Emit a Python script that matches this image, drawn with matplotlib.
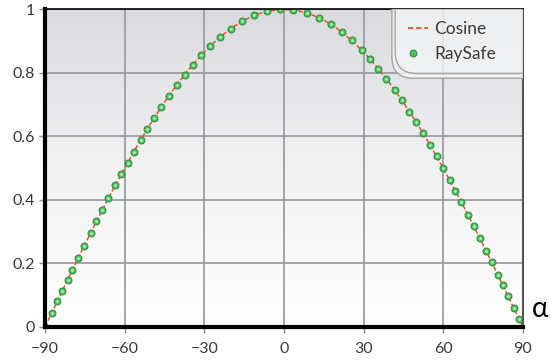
import numpy as np
import matplotlib
matplotlib.use('Agg')
import matplotlib.pyplot as plt
from matplotlib.patches import FancyBboxPatch
from matplotlib.lines import Line2D
from matplotlib.legend_handler import HandlerTuple

plt.rcParams['font.family'] = ['Lato', 'DejaVu Sans']

# reference cosine curve, read every 5 degrees
cos_angle = [-90, -85, -80, -75, -70, -65, -60, -55, -50, -45, -40, -35, -30, -25, -20, -15, -10, -5,
             0, 5, 10, 15, 20, 25, 30, 35, 40, 45, 50, 55, 60, 65, 70, 75, 80, 85, 90]
cos_value = [0.000, 0.087, 0.174, 0.259, 0.342, 0.423, 0.500, 0.574, 0.643, 0.707, 0.766, 0.819, 0.866,
             0.906, 0.940, 0.966, 0.985, 0.996, 1.000, 0.996, 0.985, 0.966, 0.940, 0.906, 0.866, 0.819,
             0.766, 0.707, 0.643, 0.574, 0.500, 0.423, 0.342, 0.259, 0.174, 0.087, 0.000]

# RaySafe measurements
ray_angle = [-90, -87.4, -85.3, -83.5, -81.5, -79.7, -77.4, -75.2, -72.8, -70.6, -68.4, -66.1, -63.5,
             -61.3, -58.9, -56.5, -54.0, -51.5, -48.8, -46.2, -43.3, -40.4, -37.4, -34.3, -31.1, -27.7,
             -24.0, -20.1, -15.8, -11.3, -6.4, -1.4, 3.6, 8.6, 13.4, 17.7, 21.9, 25.5, 29.3, 32.4, 35.6,
             38.6, 41.7, 44.5, 47.3, 49.9, 52.4, 55.1, 57.5, 60.0, 62.4, 64.6, 66.9, 69.3, 71.5, 73.8,
             76.2, 78.3, 80.6, 82.4, 84.5, 86.5, 88.6]
ray_value = [0.000, 0.045, 0.082, 0.113, 0.148, 0.179, 0.218, 0.255, 0.296, 0.332, 0.368, 0.405, 0.446,
             0.480, 0.517, 0.552, 0.588, 0.623, 0.659, 0.692, 0.728, 0.762, 0.794, 0.826, 0.856, 0.885,
             0.914, 0.939, 0.962, 0.981, 0.994, 1.000, 0.998, 0.989, 0.973, 0.953, 0.928, 0.903, 0.872,
             0.844, 0.813, 0.782, 0.747, 0.713, 0.678, 0.644, 0.610, 0.572, 0.537, 0.500, 0.463, 0.429,
             0.392, 0.353, 0.317, 0.279, 0.239, 0.203, 0.163, 0.132, 0.096, 0.061, 0.024]

xticks = [-90, -60, -30, 0, 30, 60, 90]
yticks = [0, 0.2, 0.4, 0.6, 0.8, 1]
ytick_labels = ['0', '0.2', '0.4', '0.6', '0.8', '1']

fig = plt.figure(figsize=(5.55, 3.6), dpi=100)
ax = fig.add_axes([0.081, 0.092, 0.861, 0.882])
ax.set_xlim(-90, 90)
ax.set_ylim(0, 1)

# gray-to-white background (top gray, bottom white)
grad = np.linspace(0, 1, 256).reshape(-1, 1)
bg = matplotlib.colors.LinearSegmentedColormap.from_list('bg', ['#dadbde', '#f2f2f3', '#ffffff'])
ax.imshow(grad, cmap=bg, extent=[0, 1, 0, 1], origin='upper', transform=ax.transAxes,
          aspect='auto', zorder=0)

ax.grid(True, color='#9a9fa4', lw=1.3, zorder=1)
ax.set_axisbelow(True)

ax.plot(cos_angle, cos_value, color='#f0502a', lw=1.1, ls=(0, (3, 1.5)), zorder=3)
ax.plot(ray_angle, ray_value, ls='none', marker='o', ms=5, mfc='#52c060', mec='#2c8c3a', mew=0.7, zorder=4)
ax.plot(ray_angle, ray_value, ls='none', marker='o', ms=1.8, mfc='#cdf4cd', mec='none', zorder=5)

ax.set_xticks(xticks)
ax.set_yticks(yticks)
ax.set_yticklabels(ytick_labels)
ax.tick_params(length=4, width=1, color='#8a8e92', labelsize=11.5, labelcolor='#3a3a3a', pad=3)
ax.tick_params(axis='x', pad=7)

for side in ['left', 'bottom']:
    ax.spines[side].set_linewidth(3)
    ax.spines[side].set_color('black')
ax.spines['top'].set_linewidth(1.2)
ax.spines['top'].set_color('black')
ax.spines['right'].set_linewidth(1.5)
ax.spines['right'].set_color('#555555')
for s in ax.spines.values():
    s.set_zorder(6)

ax.text(1.02, 0.015, 'α', transform=ax.transAxes, fontsize=20, color='black', ha='left', va='bottom')

# legend box hanging from the top right corner (double outline)
rs = 'round,pad=0,rounding_size=0.045'
outer = FancyBboxPatch((0.726, 0.783), 0.5, 0.5, boxstyle=rs, transform=ax.transAxes,
                       fc='#f3f4f5', alpha=0.8, ec='none', zorder=7, mutation_aspect=1.5)
ax.add_patch(outer)
outer.set_clip_path(ax.patch)
for x0, y0 in [(0.726, 0.783), (0.733, 0.798)]:
    box = FancyBboxPatch((x0, y0), 0.5, 0.5, boxstyle=rs, transform=ax.transAxes,
                         fc='none', ec='#a4a4a4', lw=1.0, zorder=7, mutation_aspect=1.5)
    ax.add_patch(box)
    box.set_clip_path(ax.patch)

h_cos = Line2D([], [], color='#f0502a', lw=1.3, ls=(0, (3, 1.5)))
h_big = Line2D([], [], ls='none', marker='o', ms=5, mfc='#52c060', mec='#2c8c3a', mew=0.7)
h_small = Line2D([], [], ls='none', marker='o', ms=1.8, mfc='#cdf4cd', mec='none')
leg = ax.legend([h_cos, (h_big, h_small)], ['Cosine', 'RaySafe'], loc='upper left',
                bbox_to_anchor=(0.759, 0.962), frameon=False, fontsize=12.5, handlelength=1.15,
                handletextpad=0.4, labelspacing=0.5, borderpad=0, borderaxespad=0,
                handler_map={tuple: HandlerTuple(ndivide=None)})
for t in leg.get_texts():
    t.set_color('#3a3a3a')
leg.set_zorder(8)

fig.savefig('out.png', dpi=100)
